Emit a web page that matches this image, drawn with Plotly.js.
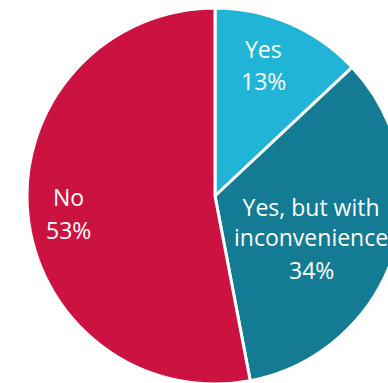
<!DOCTYPE html>
<html>
<head>
<meta charset="utf-8">
<script src="https://cdn.plot.ly/plotly-3.0.1.min.js"></script>
<style>
html, body { margin: 0; padding: 0; overflow: hidden; width: 388px; height: 383px; background: #fff; }
#chart { width: 430px; height: 392px; }
</style>
</head>
<body>
<div id="chart"></div>
<script>
const categories = ["Yes", "Yes, but with inconvenience", "No"];
const labelLines = ["Yes", "Yes, but with<br>inconvenience", "No"];
const values = [13, 34, 53];
const colors = ["#20b4d6", "#137b93", "#cc1241"];

// label positions in pixels (layout only): [x, label y, percent y]
const W = 430, H = 392;
const labelPos = [[263, 49, 81], [311, 222, 270], [68, 197, 230]];

const trace = {
  type: "pie",
  labels: categories,
  values: values,
  textinfo: "none",
  sort: false,
  direction: "clockwise",
  rotation: 0,
  marker: { colors: colors, line: { color: "#ffffff", width: 3 } },
  hoverinfo: "label+percent",
  domain: { x: [0, 1], y: [0.0204, 0.9796] }
};

const font = { family: "Open Sans, sans-serif", size: 23, color: "#ffffff" };
const annotations = [];
categories.forEach((c, i) => {
  annotations.push({
    text: labelLines[i],
    xref: "paper", yref: "paper",
    x: labelPos[i][0] / W, y: 1 - labelPos[i][1] / H,
    xanchor: "center", yanchor: "middle",
    showarrow: false, align: "center", font: font
  });
  annotations.push({
    text: values[i] + "%",
    xref: "paper", yref: "paper",
    x: labelPos[i][0] / W, y: 1 - labelPos[i][2] / H,
    xanchor: "center", yanchor: "middle",
    showarrow: false, align: "center", font: font
  });
});

const layout = {
  width: W,
  height: H,
  margin: { l: 0, r: 0, t: 0, b: 0, pad: 0 },
  showlegend: false,
  paper_bgcolor: "#ffffff",
  plot_bgcolor: "#ffffff",
  annotations: annotations
};

Plotly.newPlot("chart", [trace], layout, { displayModeBar: false, staticPlot: true });
</script>
</body>
</html>
